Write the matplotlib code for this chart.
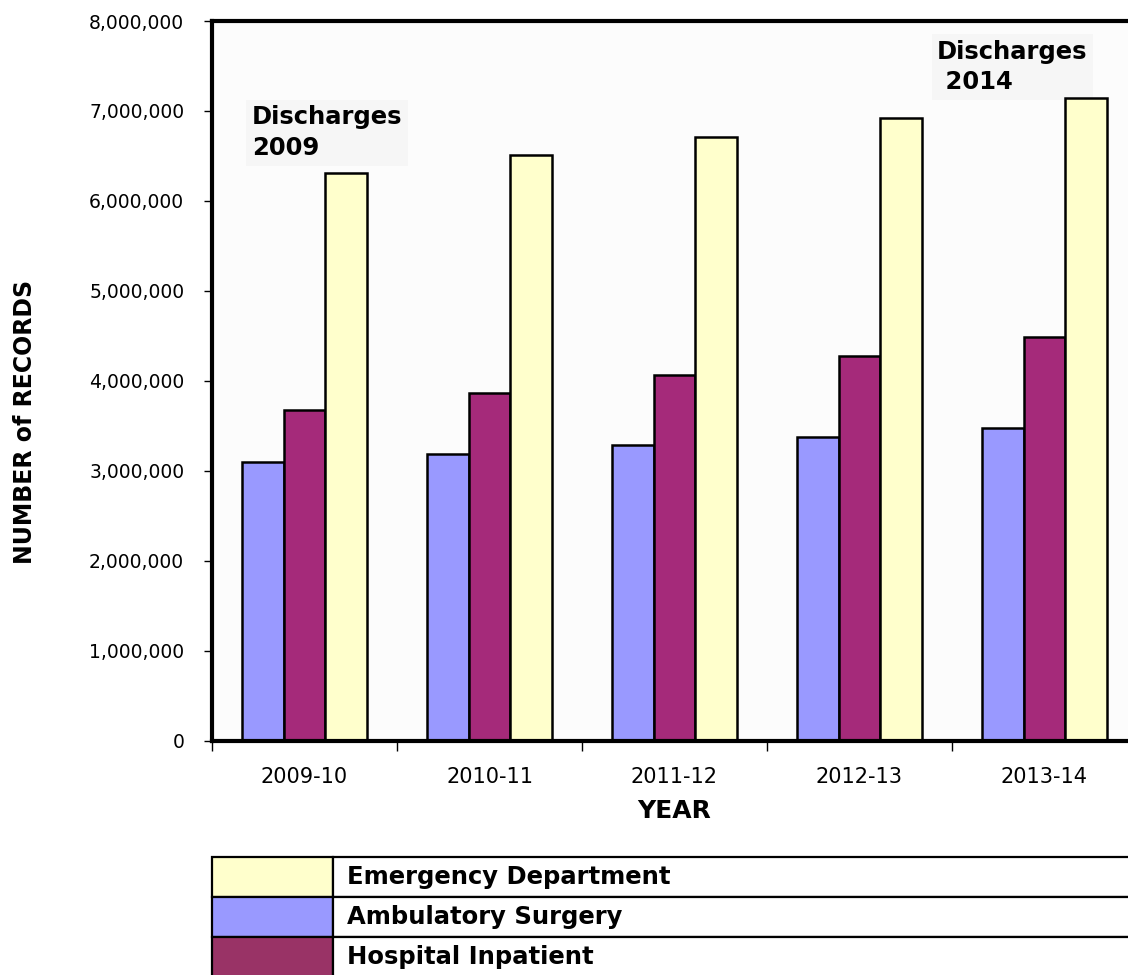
import matplotlib.pyplot as plt
import numpy as np
from matplotlib.patches import Rectangle
from matplotlib.ticker import FuncFormatter, FixedLocator

years = ["2009-10", "2010-11", "2011-12", "2012-13", "2013-14"]
ambulatory = [3100000, 3190000, 3290000, 3380000, 3480000]
inpatient = [3680000, 3870000, 4070000, 4280000, 4490000]
emergency = [6310000, 6510000, 6710000, 6920000, 7140000]

series = ["Emergency Department", "Ambulatory Surgery", "Hospital Inpatient"]
bar_colors = {"Emergency Department": "#FFFFCC",
              "Ambulatory Surgery": "#9999FF",
              "Hospital Inpatient": "#A52A7A"}
key_colors = {"Emergency Department": "#FFFFCC",
              "Ambulatory Surgery": "#9999FF",
              "Hospital Inpatient": "#993366"}

W, H = 1128, 975
fig = plt.figure(figsize=(W / 100, H / 100), dpi=100)
fig.patch.set_facecolor("white")

# main plot area, right edge runs past the figure
ax = fig.add_axes([212 / W, (H - 741) / H, 925 / W, 720 / H])
ax.set_facecolor("#FCFCFC")

x = np.arange(len(years))
w = 0.227
ax.bar(x - w, ambulatory, w, color=bar_colors["Ambulatory Surgery"], edgecolor="black", linewidth=1.8, zorder=2)
ax.bar(x, inpatient, w, color=bar_colors["Hospital Inpatient"], edgecolor="black", linewidth=1.8, zorder=2)
ax.bar(x + w, emergency, w, color=bar_colors["Emergency Department"], edgecolor="black", linewidth=1.8, zorder=2)

ax.set_xlim(-0.5, len(years) - 0.5)
ax.set_ylim(0, 8000000)
ax.yaxis.set_major_locator(FixedLocator(np.arange(0, 8000001, 1000000)))
ax.yaxis.set_major_formatter(FuncFormatter(lambda v, p: f"{int(v):,}"))
ax.tick_params(axis="y", labelsize=13.5, length=6, width=1, pad=14, direction="out")

ax.set_xticks(x)
ax.set_xticklabels(years, fontsize=15)
ax.xaxis.set_minor_locator(FixedLocator(np.arange(-0.5, len(years), 1.0)))
ax.tick_params(axis="x", which="major", length=0, pad=19)
ax.tick_params(axis="x", which="minor", length=7, width=1, direction="out")

for s in ["left", "bottom", "top", "right"]:
    ax.spines[s].set_linewidth(3)

ax.set_xlabel("YEAR", fontsize=18, fontweight="bold", labelpad=8)
fig.text(25 / W, 1 - 422 / H, "NUMBER of RECORDS", rotation=90, fontsize=17,
         fontweight="bold", ha="center", va="center")

# text boxes sit behind the bars
ax.text(-0.284, 6760000, "Discharges\n2009", fontsize=17.5, fontweight="bold",
        va="center", ha="left", linespacing=1.35, zorder=1,
        bbox=dict(facecolor="#F6F6F6", edgecolor="none", pad=4))
ax.text(3.42, 7490000, "Discharges\n 2014", fontsize=17.5, fontweight="bold",
        va="center", ha="left", linespacing=1.35, zorder=1,
        bbox=dict(facecolor="#F6F6F6", edgecolor="none", pad=4))

# colour key drawn as a table under the chart
kx = fig.add_axes([212 / W, (H - 977) / H, 925 / W, 120 / H])
kx.set_xlim(0, 925)
kx.set_ylim(0, 120)
kx.axis("off")
for i, name in enumerate(series):
    y0 = 120 - (i + 1) * 40
    kx.add_patch(Rectangle((0, y0), 121, 40, facecolor=key_colors[name],
                           edgecolor="black", linewidth=1.6, clip_on=False))
    kx.add_patch(Rectangle((121, y0), 804, 40, facecolor="white",
                           edgecolor="black", linewidth=1.6, clip_on=False))
    kx.text(135, y0 + 20, name, fontsize=17.5, fontweight="bold",
            va="center", ha="left")

fig.savefig("out.png", dpi=100)
